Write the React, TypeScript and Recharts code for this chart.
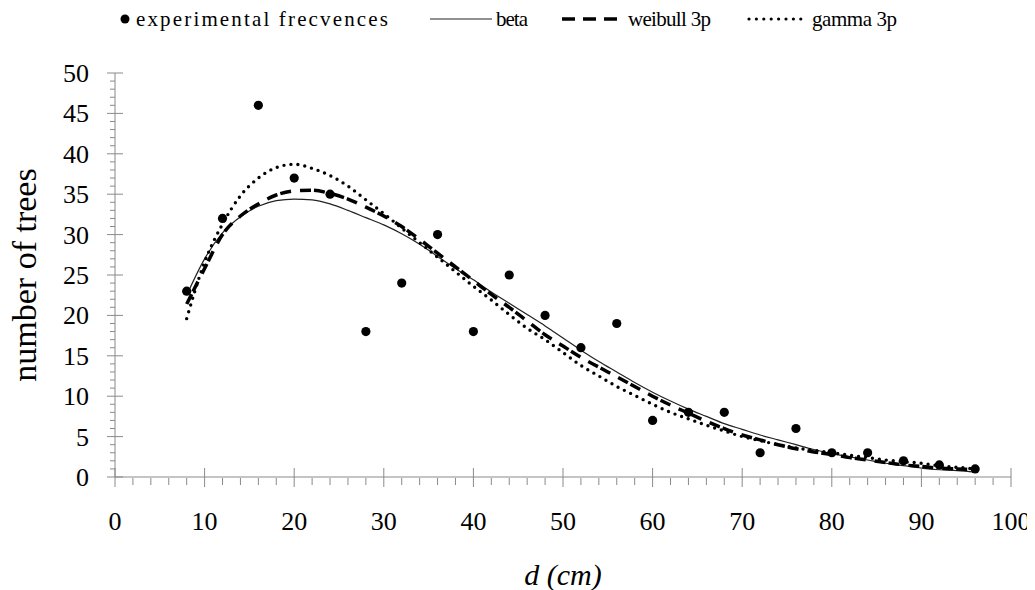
import React from 'react';
import { ComposedChart, Line, Scatter, XAxis, YAxis } from 'recharts';

// ---- data ----
const classes = [8, 12, 16, 20, 24, 28, 32, 36, 40, 44, 48, 52, 56, 60, 64, 68, 72, 76, 80, 84, 88, 92, 96];
const observed = [23, 32, 46, 37, 35, 18, 24, 30, 18, 25, 20, 16, 19, 7, 8, 8, 3, 6, 3, 3, 2, 1.5, 1];

const curveD = [8, 10, 12, 14, 16, 18, 20, 22, 24, 26, 28, 30, 32, 34, 36, 38, 40, 42, 44, 46, 48, 50, 52, 54, 56, 58, 60, 62, 64, 66, 68, 70, 72, 74, 76, 78, 80, 82, 84, 86, 88, 90, 92, 94, 96];
const betaFit = [22.5, 27.0, 30.2, 32.2, 33.5, 34.2, 34.4, 34.3, 33.8, 33.0, 32.1, 31.2, 30.1, 28.8, 27.3, 25.8, 24.4, 22.9, 21.5, 20.1, 18.7, 17.2, 15.7, 14.3, 13.0, 11.7, 10.5, 9.4, 8.4, 7.5, 6.6, 5.9, 5.2, 4.6, 4.0, 3.4, 2.9, 2.5, 2.1, 1.7, 1.4, 1.1, 0.9, 0.8, 0.6];
const weibullFit = [21.4, 25.8, 30.0, 32.3, 33.8, 34.9, 35.4, 35.5, 35.1, 34.4, 33.4, 32.3, 31.0, 29.4, 27.7, 26.0, 24.3, 22.6, 21.0, 19.3, 17.6, 16.2, 14.8, 13.6, 12.4, 11.2, 10.0, 8.9, 7.9, 6.9, 6.0, 5.2, 4.6, 4.0, 3.5, 3.1, 2.8, 2.4, 2.1, 1.8, 1.5, 1.3, 1.1, 1.0, 0.9];
const gammaFit = [19.6, 26.6, 31.3, 34.8, 37.0, 38.3, 38.7, 38.2, 37.3, 36.0, 34.3, 32.6, 30.8, 29.0, 27.2, 25.4, 23.6, 21.9, 20.1, 18.4, 17.0, 15.4, 13.8, 12.5, 11.2, 10.1, 9.0, 8.0, 7.2, 6.4, 5.7, 5.0, 4.5, 4.0, 3.6, 3.3, 3.0, 2.7, 2.4, 2.1, 1.9, 1.7, 1.4, 1.2, 1.0];

const xTicks = [0, 2, 4, 6, 8, 10, 12, 14, 16, 18, 20, 22, 24, 26, 28, 30, 32, 34, 36, 38, 40, 42, 44, 46, 48, 50, 52, 54, 56, 58, 60, 62, 64, 66, 68, 70, 72, 74, 76, 78, 80, 82, 84, 86, 88, 90, 92, 94, 96, 98, 100];
const yTicks = [0, 1, 2, 3, 4, 5, 6, 7, 8, 9, 10, 11, 12, 13, 14, 15, 16, 17, 18, 19, 20, 21, 22, 23, 24, 25, 26, 27, 28, 29, 30, 31, 32, 33, 34, 35, 36, 37, 38, 39, 40, 41, 42, 43, 44, 45, 46, 47, 48, 49, 50];

const legendLabels = ['experimental frecvences', 'beta', 'weibull 3p', 'gamma 3p'];
const xTitle = 'd (cm)';
const yTitle = 'number of trees';

// ---- tables built from the arrays ----
const obsData = classes.map((d, i) => ({ d, y: observed[i] }));
const betaData = curveD.map((d, i) => ({ d, y: betaFit[i] }));
const weibullData = curveD.map((d, i) => ({ d, y: weibullFit[i] }));
const gammaData = curveD.map((d, i) => ({ d, y: gammaFit[i] }));

// ---- styles ----
const W = 1027;
const H = 582;
const AXIS = '#8a8a8a';
const FONT = "'Liberation Serif', 'DejaVu Serif', serif";
const serif = { fontFamily: FONT };

const XTick = (props: any) => {
  const { x, y, payload } = props;
  const v = payload.value;
  const major = v % 10 === 0;
  return (
    <g>
      {major ? (
        <line x1={x} x2={x} y1={y - 9} y2={y + 10} stroke={AXIS} strokeWidth={1} />
      ) : (
        <line x1={x} x2={x} y1={y + 1} y2={y + 8} stroke={AXIS} strokeWidth={1} />
      )}
      {major && (
        <text x={x} y={y + 53} textAnchor="middle" fontSize={26} style={serif} fill="#000">
          {v}
        </text>
      )}
    </g>
  );
};

const YTick = (props: any) => {
  const { x, y, payload } = props;
  const v = payload.value;
  const major = v % 5 === 0;
  return (
    <g>
      {major ? (
        <line x1={x - 8} x2={x + 8} y1={y} y2={y} stroke={AXIS} strokeWidth={1} />
      ) : (
        <line x1={x - 5} x2={x} y1={y} y2={y} stroke={AXIS} strokeWidth={1} />
      )}
      {major && (
        <text x={x - 26} y={y + 9} textAnchor="end" fontSize={26} style={serif} fill="#000">
          {v}
        </text>
      )}
    </g>
  );
};

const XTitle = () => (
  <text x={555} y={577} textAnchor="middle" fontSize={30} fontStyle="italic" style={serif} fill="#000">
    {xTitle}
  </text>
);

const YTitle = () => (
  <text
    x={28}
    y={267}
    textAnchor="middle"
    fontSize={34}
    style={serif}
    fill="#000"
    transform="rotate(-90 28 267)"
  >
    {yTitle}
  </text>
);

const LegendBar = () => (
  <svg width={W} height={40} style={{ position: 'absolute', left: 0, top: 0 }}>
    <circle cx={117} cy={11} r={4.5} fill="#000" />
    <text x={128} y={18} fontSize={21} style={serif} textLength={252} lengthAdjust="spacing">
      {legendLabels[0]}
    </text>
    <line x1={422} x2={484} y1={11} y2={11} stroke="#222" strokeWidth={1.2} />
    <text x={488} y={18} fontSize={21} style={serif} textLength={32} lengthAdjust="spacing">
      {legendLabels[1]}
    </text>
    <line x1={554} x2={617} y1={11} y2={11} stroke="#000" strokeWidth={3.5} strokeDasharray="13 8" />
    <text x={620} y={18} fontSize={21} style={serif} textLength={83} lengthAdjust="spacing">
      {legendLabels[2]}
    </text>
    <line x1={741} x2={800} y1={11} y2={11} stroke="#000" strokeWidth={3.2} strokeDasharray="0 7.4" strokeLinecap="round" />
    <text x={804} y={18} fontSize={21} style={serif} textLength={85} lengthAdjust="spacing">
      {legendLabels[3]}
    </text>
  </svg>
);

const Dot = (p: any) => <circle cx={p.cx} cy={p.cy} r={4.6} fill="#000" />;

export default function App() {
  return (
    <div style={{ position: 'relative', width: W, height: H, background: '#fff' }}>
      <ComposedChart width={W} height={H} margin={{ top: 65, right: 24, left: 47, bottom: 53 }}>
        <XAxis
          type="number"
          dataKey="d"
          domain={[0, 100]}
          ticks={xTicks}
          interval={0}
          tickSize={0}
          tickMargin={0}
          tickLine={false}
          tick={<XTick />}
          axisLine={{ stroke: AXIS, strokeWidth: 1 }}
          height={60}
          allowDuplicatedCategory={false}
          label={<XTitle />}
        />
        <YAxis
          type="number"
          dataKey="y"
          domain={[0, 50]}
          ticks={yTicks}
          interval={0}
          tickSize={0}
          tickMargin={0}
          tickLine={false}
          tick={<YTick />}
          axisLine={{ stroke: AXIS, strokeWidth: 1 }}
          width={60}
          label={<YTitle />}
        />
        <Line
          data={betaData}
          dataKey="y"
          type="monotone"
          stroke="#222"
          strokeWidth={1.2}
          dot={false}
          activeDot={false}
          isAnimationActive={false}
        />
        <Line
          data={weibullData}
          dataKey="y"
          type="monotone"
          stroke="#000"
          strokeWidth={3.5}
          strokeDasharray="11 3 11 9"
          dot={false}
          activeDot={false}
          isAnimationActive={false}
        />
        <Line
          data={gammaData}
          dataKey="y"
          type="monotone"
          stroke="#000"
          strokeWidth={3.4}
          strokeDasharray="0 7"
          strokeLinecap="round"
          dot={false}
          activeDot={false}
          isAnimationActive={false}
        />
        <Scatter data={obsData} dataKey="y" shape={<Dot />} isAnimationActive={false} />
      </ComposedChart>
      <LegendBar />
    </div>
  );
}
